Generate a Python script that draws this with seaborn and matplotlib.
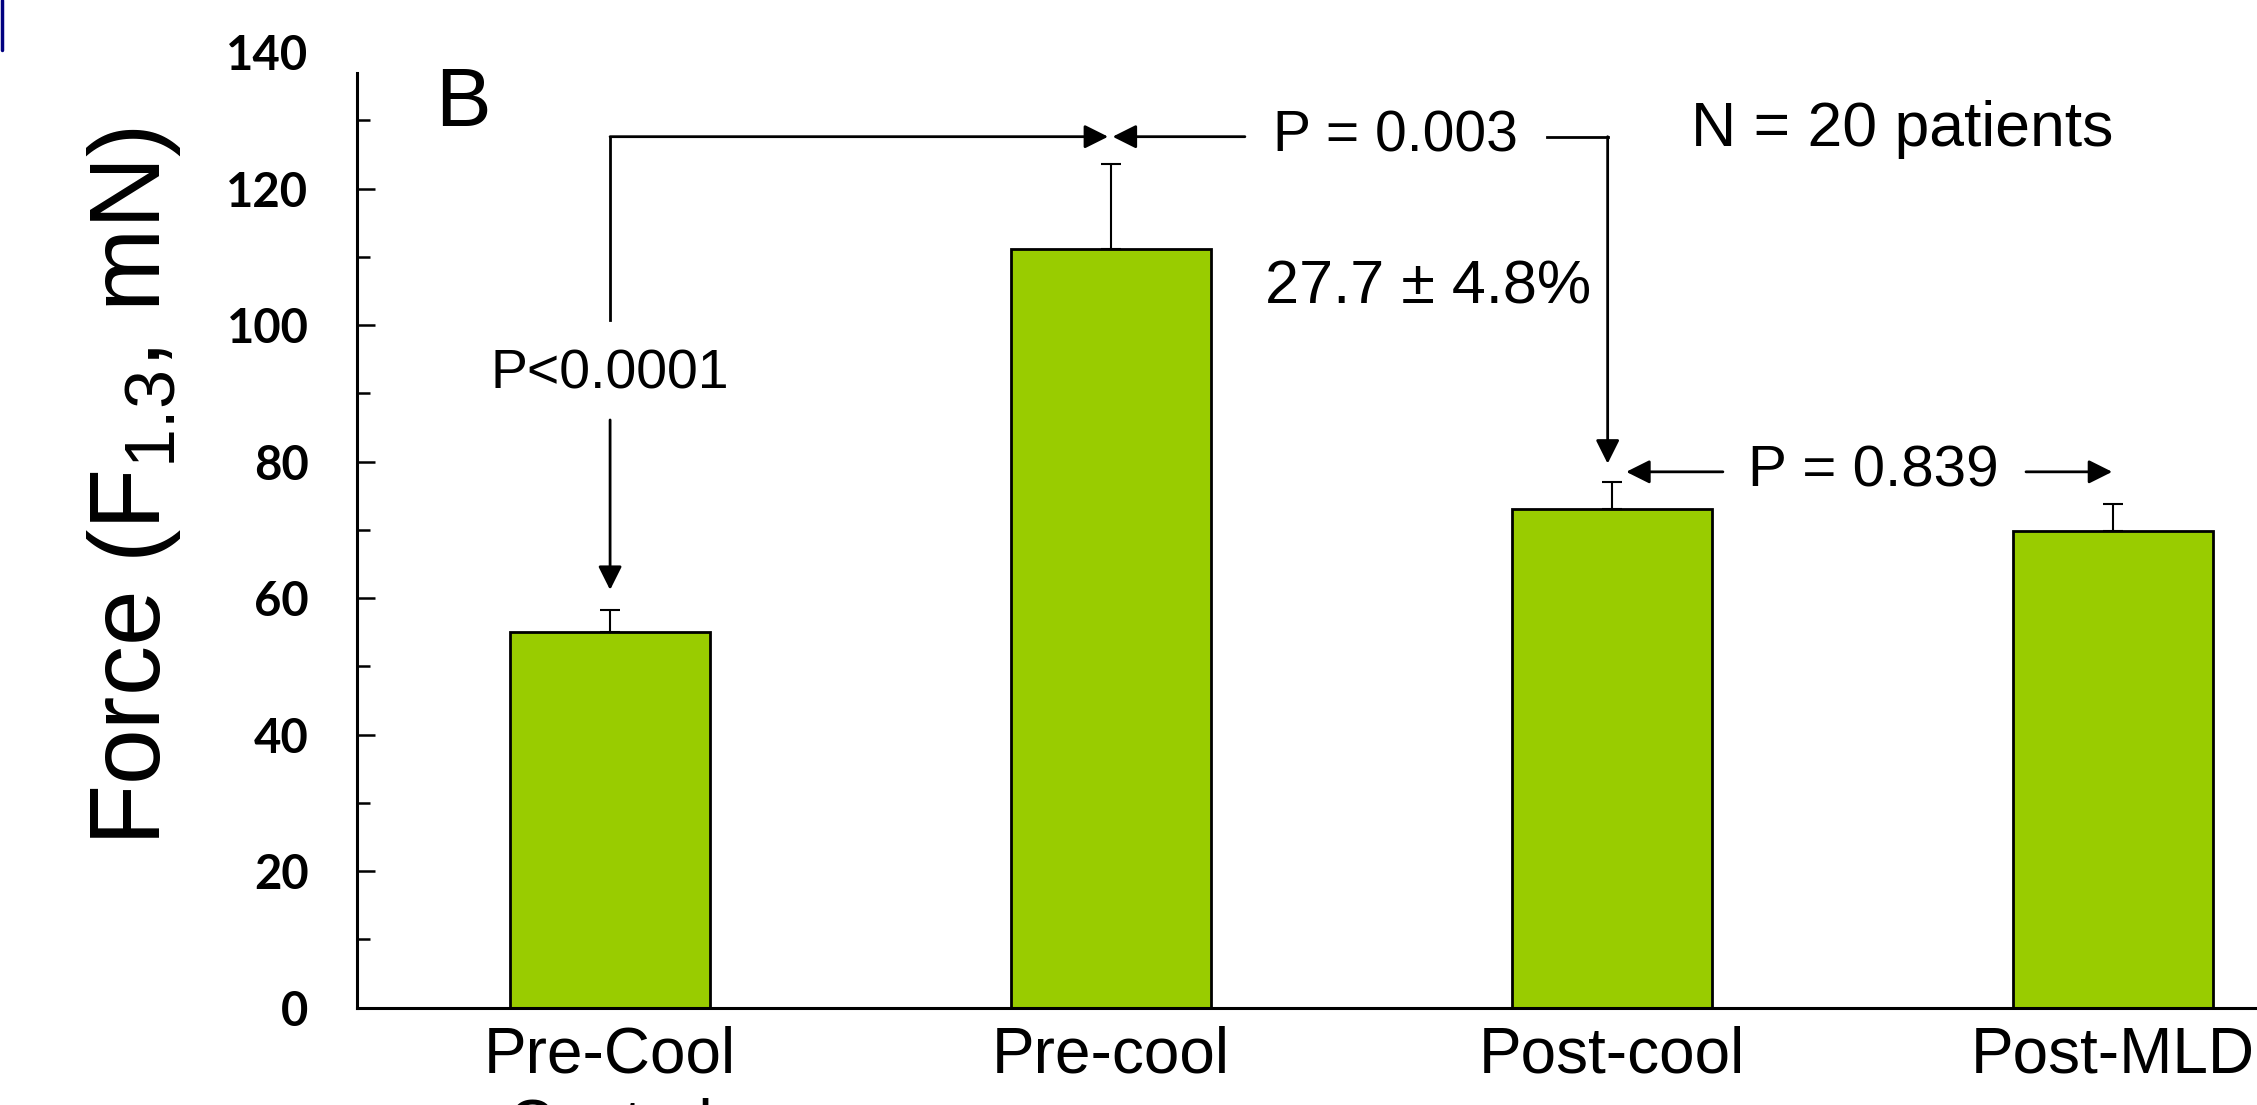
import matplotlib
matplotlib.use("Agg")
import matplotlib.pyplot as plt
from matplotlib.lines import Line2D
import seaborn as sns
import pandas as pd

# --> Data <--#
groups = ["Pre-Cool\nControl", "Pre-cool", "Post-cool", "Post-MLD"]
force_mean = [55.0, 111.1, 73.0, 69.8]
force_sem = [3.2, 12.5, 4.0, 4.0]
y_ticks = [0, 20, 40, 60, 80, 100, 120, 140]

df = pd.DataFrame({"group": groups, "force": force_mean})

sns.set_theme(style="white")
plt.rcParams["font.family"] = ["Liberation Sans", "DejaVu Sans"]
plt.rcParams["mathtext.default"] = "regular"
for key in ["text.color", "axes.labelcolor", "xtick.color", "ytick.color"]:
    plt.rcParams[key] = "black"

bar_color = "#99CC00"
fig = plt.figure(figsize=(22.57, 11.05), dpi=100)
ax = fig.add_axes([0.1582, 0.0881, 0.8418, 0.8648])

# bars
sns.barplot(data=df, x="group", y="force", color=bar_color, width=0.4,
            edgecolor="black", linewidth=2, saturation=1, errorbar=None, ax=ax)

# one-sided SEM bars
ax.errorbar(range(len(groups)), force_mean, yerr=[[0] * len(groups), force_sem],
            fmt="none", ecolor="black", elinewidth=1.5, capsize=7, capthick=1.5)

ax.set_xlim(-0.505, 3.287)
ax.set_ylim(0, 140)
ax.set_xlabel("")
ax.set_ylabel("")

# axes styling
for s in ["top", "right"]:
    ax.spines[s].set_visible(False)
for s in ["left", "bottom"]:
    ax.spines[s].set_linewidth(2.2)
    ax.spines[s].set_color("black")
ax.spines["left"].set_bounds(0, 137)

ax.set_yticks(y_ticks)
ax.set_yticks(range(10, 140, 20), minor=True)
ax.tick_params(axis="y", which="major", direction="in", length=13, width=1.8,
               pad=35, left=True, colors="black")
ax.tick_params(axis="y", which="minor", direction="in", length=9, width=1.8, left=True)
ax.yaxis.get_major_ticks()[-1].tick1line.set_visible(False)
for lab in ax.get_yticklabels():
    lab.set_fontfamily("Lato")
    lab.set_fontweight("bold")
    lab.set_fontsize(34)

ax.tick_params(axis="x", length=0, pad=13, labelsize=46, colors="black")
for lab in ax.get_xticklabels():
    lab.set_linespacing(1.25)
# first label sits slightly left of its bar in the original
ax.get_xticklabels()[0].set_x(-0.02)

fig.text(0.0594, 0.56, "Force (F$_{1.3}$, mN)", rotation=90, ha="center",
         va="center", fontsize=72)

# --> Annotations <--#
lw = 2
arr = dict(arrowstyle="-|>", color="black", lw=lw, mutation_scale=36,
           shrinkA=0, shrinkB=0)

# P<0.0001 bracket
ax.plot([0, 0], [100.8, 127.6], color="black", lw=lw, solid_capstyle="projecting")
ax.annotate("", xy=(0.994, 127.6), xytext=(0, 127.6), arrowprops=arr)
ax.text(0, 92.8, "P<0.0001", ha="center", va="center", fontsize=40)
ax.annotate("", xy=(0, 61.2), xytext=(0, 86.1), arrowprops=arr)

# P = 0.003 bracket
ax.annotate("", xy=(1.003, 127.6), xytext=(1.267, 127.6), arrowprops=arr)
ax.text(1.568, 127.6, "P = 0.003", ha="center", va="center", fontsize=41)
ax.plot([1.870, 1.991], [127.6, 127.6], color="black", lw=lw, solid_capstyle="projecting")
ax.annotate("", xy=(1.991, 79.7), xytext=(1.991, 127.6), arrowprops=arr)
ax.text(1.632, 105.4, "27.7 \u00b1 4.8%", ha="center", va="center", fontsize=44)

# P = 0.839
ax.annotate("", xy=(2.028, 78.5), xytext=(2.221, 78.5), arrowprops=arr)
ax.text(2.522, 78.5, "P = 0.839", ha="center", va="center", fontsize=42)
ax.annotate("", xy=(2.998, 78.5), xytext=(2.826, 78.5), arrowprops=arr)

ax.text(2.579, 128.6, "N = 20 patients", ha="center", va="center", fontsize=45)
ax.text(-0.293, 132.4, "B", ha="center", va="center", fontsize=60)

# slide border fragment at top-left
fig.add_artist(Line2D([0.0007, 0.0007], [1.0, 0.955], transform=fig.transFigure,
                      color="#000080", lw=2.5))

fig.savefig("out.png", dpi=100)
